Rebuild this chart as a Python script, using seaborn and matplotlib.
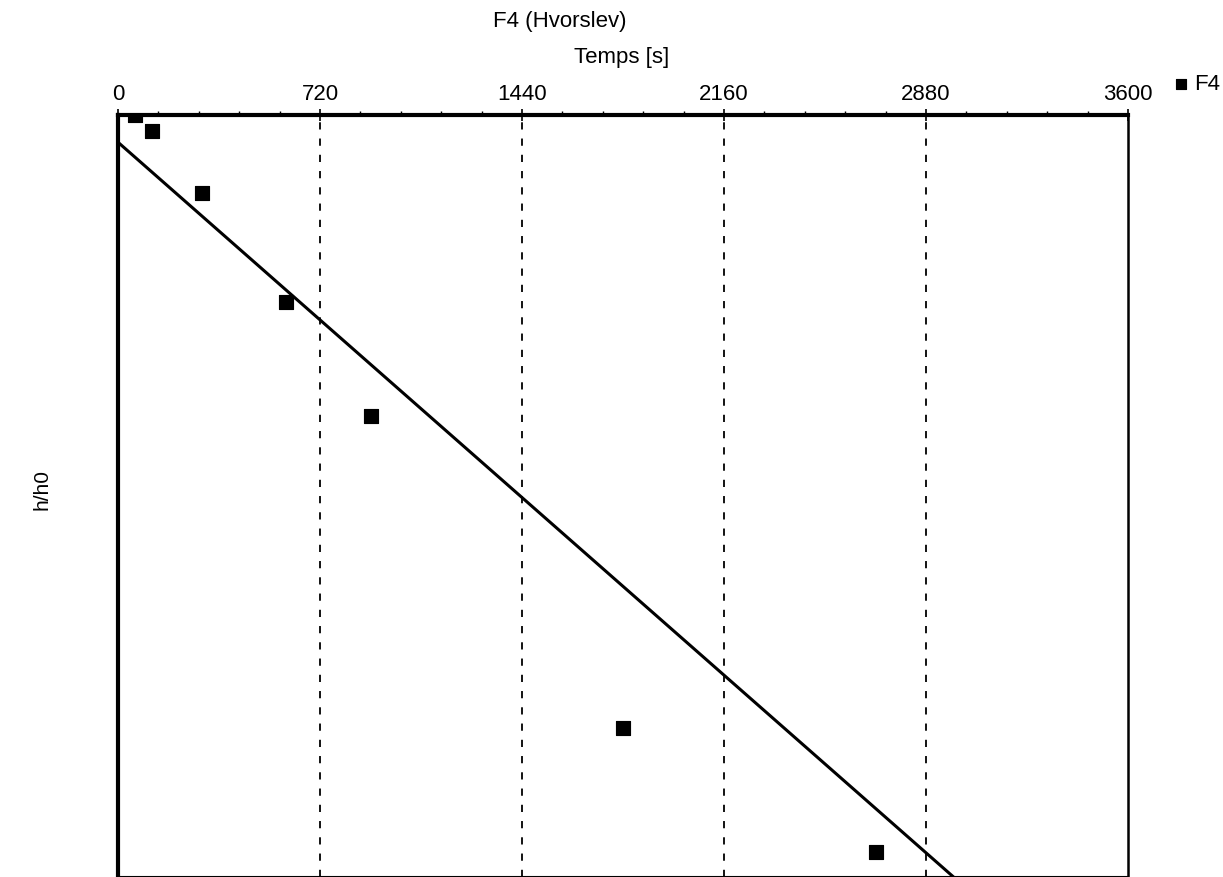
import matplotlib
matplotlib.use("Agg")
import matplotlib.pyplot as plt
from matplotlib.ticker import MultipleLocator, NullLocator, NullFormatter
import seaborn as sns
import numpy as np
import pandas as pd

# Data
time_s = [60, 120, 300, 600, 900, 1800, 2700]
h_h0 = [1.0, 0.953, 0.789, 0.569, 0.403, 0.157, 0.108]
fit_t = [0, 3600]
fit_h = [0.921, 0.0629]
xticks = [0, 720, 1440, 2160, 2880, 3600]

sns.set_theme(style="white")
plt.rcParams['font.family'] = ['Liberation Sans', 'DejaVu Sans']
plt.rcParams['text.color'] = 'black'
plt.rcParams['xtick.color'] = 'black'
plt.rcParams['ytick.color'] = 'black'
plt.rcParams['axes.labelcolor'] = 'black'

fig = plt.figure(figsize=(12.23, 8.77), dpi=100)
ax = fig.add_axes([118/1223, 0.0, (1128-118)/1223, (877-115)/877])

df = pd.DataFrame({"t": time_s, "h": h_h0})
fit = pd.DataFrame({"t": fit_t, "h": fit_h})

sns.lineplot(data=fit, x="t", y="h", color="black", linewidth=2.2, ax=ax, legend=False)
sns.scatterplot(data=df, x="t", y="h", marker="s", s=105, color="black",
                edgecolor="black", ax=ax, label="F4", zorder=5)

ax.set_yscale("log")
ax.set_xlim(0, 3600)
ax.set_ylim(0.1, 1.0)
ax.yaxis.set_major_locator(NullLocator())
ax.yaxis.set_minor_locator(NullLocator())
ax.yaxis.set_major_formatter(NullFormatter())
ax.yaxis.set_minor_formatter(NullFormatter())
ax.set_ylabel("")

ax.xaxis.tick_top()
ax.xaxis.set_label_position("top")
ax.set_xticks(xticks)
ax.set_xticklabels([str(v) for v in xticks], fontsize=16)
ax.xaxis.set_minor_locator(MultipleLocator(144))
ax.tick_params(axis="x", which="major", direction="inout", length=8, width=1.2, pad=3, top=True, bottom=False)
ax.tick_params(axis="x", which="minor", direction="out", length=3, width=1, top=True, bottom=False)
ax.set_xlabel("")

ax.grid(False)
for xv in xticks[1:-1]:
    ax.axvline(xv, color="black", linestyle=(0, (4, 5)), linewidth=1.3, zorder=1)

for side in ["top", "left"]:
    ax.spines[side].set_linewidth(3)
    ax.spines[side].set_color("black")
ax.spines["right"].set_linewidth(1.8)
ax.spines["right"].set_color("black")
ax.spines["bottom"].set_linewidth(1.5)
ax.spines["bottom"].set_color("black")

leg = ax.legend(loc="center left", bbox_to_anchor=(1170/1223, 1 - 84/877),
                bbox_transform=fig.transFigure, frameon=False,
                fontsize=16, handletextpad=0.1, handlelength=1.0,
                markerscale=0.7, borderaxespad=0, borderpad=0)

fig.text(560/1223, 1 - 22/877, "F4 (Hvorslev)", fontsize=16, ha="center", va="center")
fig.text(622/1223, 1 - 57/877, "Temps [s]", fontsize=16, ha="center", va="center")
fig.text(42/1223, 1 - 490/877, "h/h0", fontsize=15, ha="center", va="center", rotation=90)

fig.savefig("out.png", dpi=100, facecolor="white")
